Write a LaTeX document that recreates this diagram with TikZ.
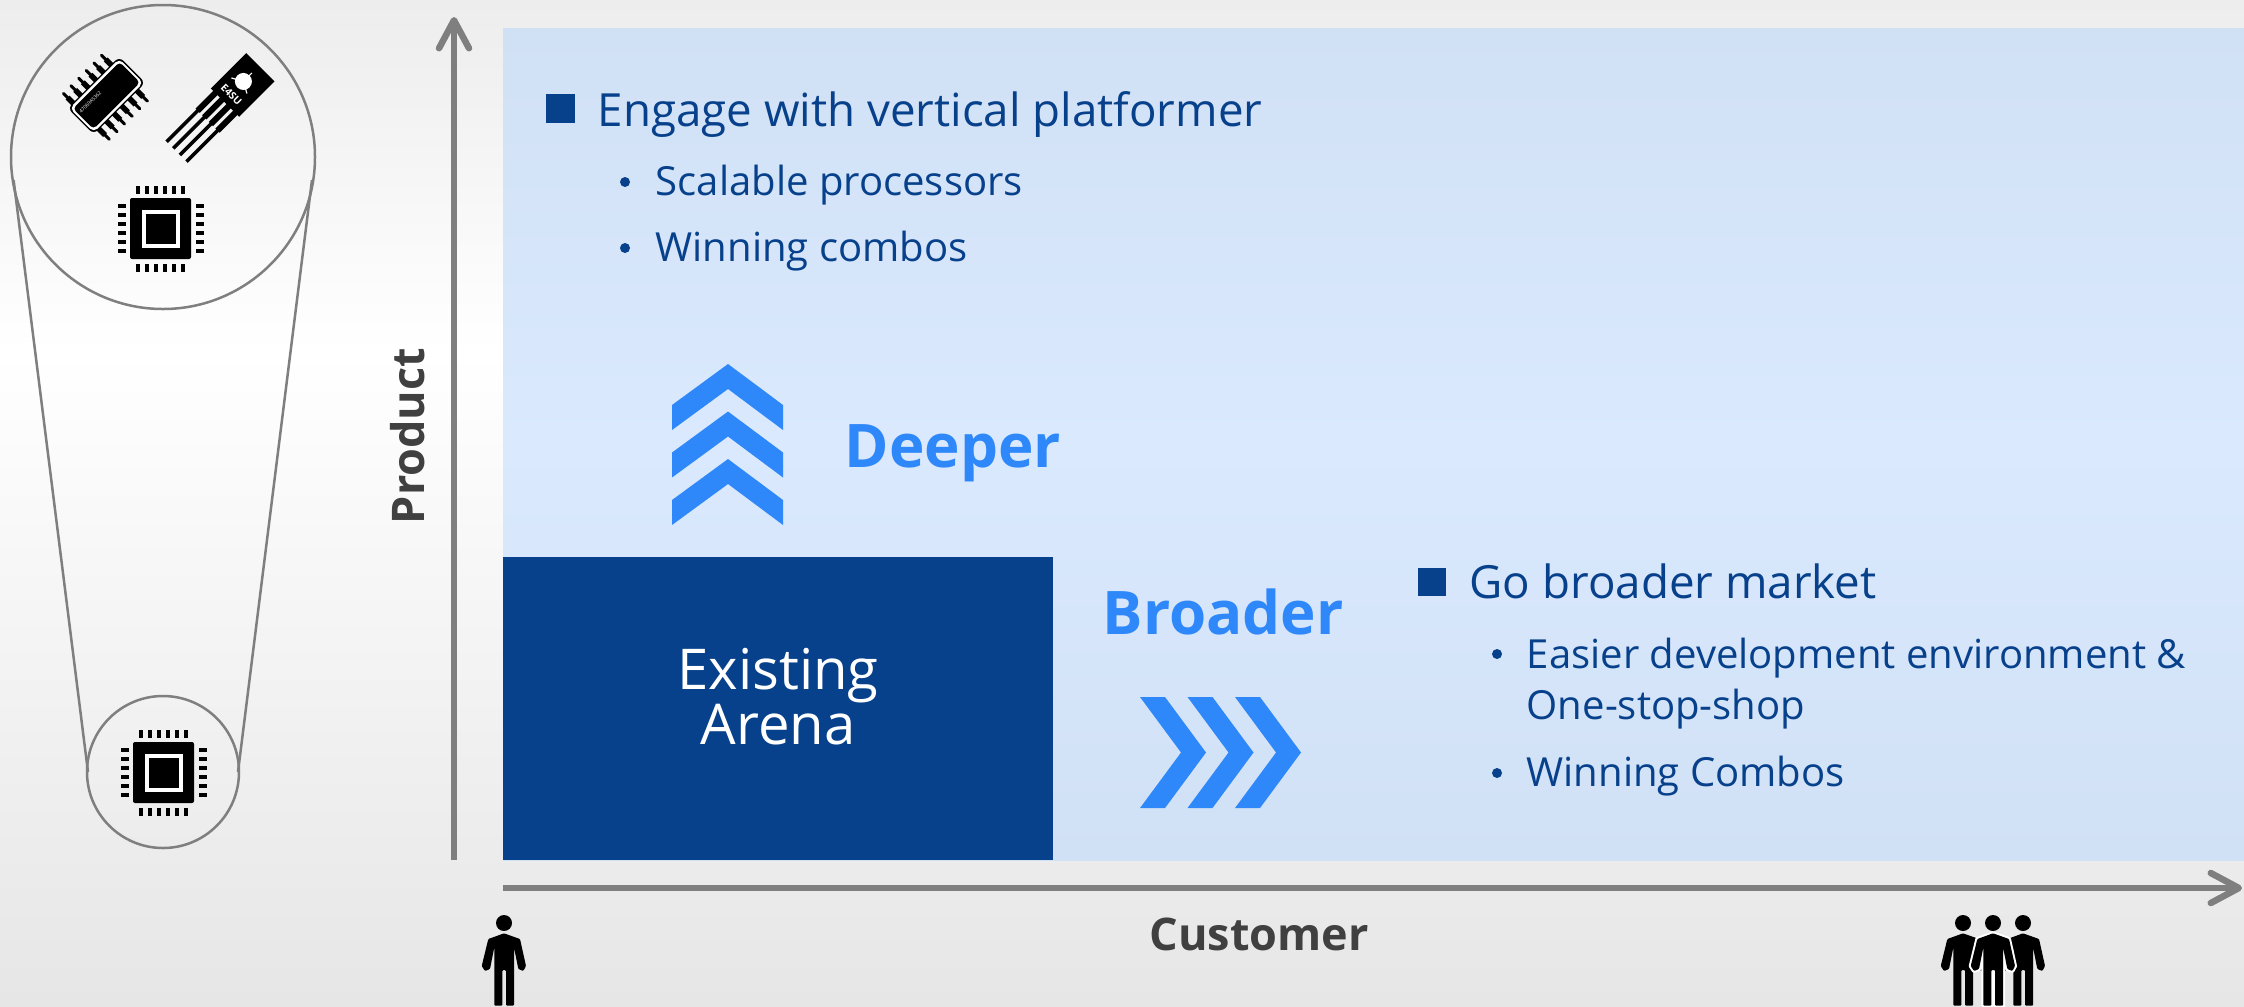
\documentclass[tikz,border=0pt]{standalone}
\usepackage{fontspec}
\setmainfont{Open Sans}
\usetikzlibrary{arrows.meta}
\definecolor{axisgray}{HTML}{7F7F7F}
\definecolor{darkblue}{HTML}{07408B}
\definecolor{textblue}{HTML}{07408B}
\definecolor{chevblue}{HTML}{2F88F9}
\definecolor{labelgray}{HTML}{404040}
\definecolor{panelrim}{HTML}{D1E1F5}
\definecolor{panelmid}{HTML}{DAE9FD}
\definecolor{pagetop}{HTML}{EDEDED}
\definecolor{pagebot}{HTML}{E6E6E6}
\pgfdeclareverticalshading{pageshade}{100bp}{color(0bp)=(pagebot);color(25bp)=(pagebot);color(57.5bp)=(white);color(75bp)=(pagetop);color(100bp)=(pagetop)}
\pgfdeclareverticalshading{panelshade}{100bp}{color(0bp)=(panelrim);color(25bp)=(panelrim);color(50bp)=(panelmid);color(75bp)=(panelrim);color(100bp)=(panelrim)}
\newcommand{\personshape}{(-0.157, -0.16) -- (-0.223, -0.43) -- (-0.19, -0.48) -- (-0.14, -0.46) -- (-0.097, -0.243) -- (-0.097, -0.827) -- (-0.017, -0.827) -- (-0.017, -0.47) -- (0.02, -0.47) -- (0.02, -0.827) -- (0.1, -0.827) -- (0.1, -0.243) -- (0.143, -0.46) -- (0.193, -0.48) -- (0.22, -0.43) -- (0.16, -0.16) -- (0, -0.103) -- cycle}
\tikzset{
	axis/.style={axisgray, line width=0.065cm, -{Straight Barb[round, length=0.28cm, width=0.3cm]}},
	lens/.style={axisgray, line width=0.025cm},
	chev/.style={fill=chevblue},
	head/.style={textblue, anchor=base west, inner sep=0pt, font=\fontsize{13}{13}\selectfont},
	sub/.style={textblue, anchor=base west, inner sep=0pt, font=\fontsize{11.4}{11.4}\selectfont},
	big/.style={chevblue, anchor=base west, inner sep=0pt, font=\fontsize{17.1}{17.1}\selectfont\bfseries},
	axislabel/.style={labelgray, font=\fontsize{12.8}{12.8}\selectfont\bfseries},
	bul/.style={fill=textblue},
	cpuchip/.pic={
		\fill[rounded corners=0.02cm] (-0.305, -0.305) rectangle (0.305, 0.305);
		\fill[white] (-0.19, -0.19) rectangle (0.19, 0.19);
		\fill (-0.15, -0.15) rectangle (0.15, 0.15);
		\foreach \p in {-0.225, -0.135, -0.045, 0.045, 0.135, 0.225} {
			\fill (\p-0.022, 0.35) rectangle (\p+0.022, 0.43);
			\fill (\p-0.022, -0.43) rectangle (\p+0.022, -0.35);
			\fill (-0.43, \p-0.022) rectangle (-0.35, \p+0.022);
			\fill (0.35, \p-0.022) rectangle (0.43, \p+0.022);
		}
	},
	person/.pic={
		\fill (0, 0) circle (0.08);
		\fill[rounded corners=0.01cm] \personshape;
	},
	persontop/.pic={
		\draw[white, line width=0.04cm, line join=round] \personshape;
		\fill (0, 0) circle (0.08);
		\fill[rounded corners=0.01cm] \personshape;
	}
}
\begin{document}
\begin{tikzpicture}
	\useasboundingbox (0, 0) rectangle (22.44, 10.06);
	\shade[shading=pageshade] (0, 0) rectangle (22.44, 10.06);
	\shade[shading=panelshade] (5.03, 1.46) rectangle (22.44, 9.78);

	% axes
	\coordinate (ybase) at (4.54, 1.46);
	\coordinate (ytip) at (4.54, 9.89);
	\coordinate (xbase) at (5.03, 1.18);
	\coordinate (xtip) at (22.42, 1.18);
	\draw[axis] (ybase) -- (ytip);
	\draw[axis] (xbase) -- (xtip);
	\node[axislabel, rotate=90] (product) at (4.08, 5.7) {Product};
	\node[axislabel] (customer) at (12.59, 0.72) {Customer};
	\pic at (5.04, 0.83) {person};
	\pic at (19.63, 0.83) {person};
	\pic at (20.23, 0.83) {person};
	\pic at (19.93, 0.83) {persontop};

	% existing arena
	\node[fill=darkblue, minimum width=5.5cm, minimum height=3.03cm, inner sep=0pt] (arena) at (7.78, 2.975) {};
	\node[text=white, inner sep=0pt, align=center, font=\fontsize{16}{15.7}\selectfont] (arenatext) at (7.78, 3.09) {Existing\\Arena};

	% chevrons
	\foreach \i in {0, 1, 2} {
		\fill[chev] (6.72, 6.01-\i*0.475) -- (7.28, 6.42-\i*0.475) -- (7.83, 6.01-\i*0.475) -- (7.83, 5.76-\i*0.475) -- (7.28, 6.17-\i*0.475) -- (6.72, 5.76-\i*0.475) -- cycle;
		\fill[chev] (11.40+\i*0.475, 3.09) -- (11.65+\i*0.475, 3.09) -- (12.06+\i*0.475, 2.535) -- (11.65+\i*0.475, 1.98) -- (11.40+\i*0.475, 1.98) -- (11.81+\i*0.475, 2.535) -- cycle;
	}
	\node[big] (deeper) at (8.44, 5.39) {Deeper};
	\node[big] (broader) at (11.02, 3.72) {Broader};

	% upper list
	\fill[bul] (5.46, 8.83) rectangle (5.75, 9.12);
	\node[head] (engage) at (5.97, 8.8) {Engage with vertical platformer};
	\fill[bul] (6.25, 8.24) circle (0.05);
	\node[sub] (scalable) at (6.55, 8.11) {Scalable processors};
	\fill[bul] (6.25, 7.58) circle (0.05);
	\node[sub] (winning) at (6.55, 7.45) {Winning combos};

	% lower list
	\fill[bul] (14.18, 4.1) rectangle (14.46, 4.38);
	\node[head] (broad) at (14.69, 4.08) {Go broader market};
	\fill[bul] (14.97, 3.52) circle (0.05);
	\node[sub] (easier) at (15.26, 3.38) {Easier development environment \&};
	\node[sub] (stop) at (15.26, 2.87) {One-stop-shop};
	\fill[bul] (14.97, 2.33) circle (0.05);
	\node[sub] (combos) at (15.26, 2.2) {Winning Combos};

	% lens
	\coordinate (l1) at (0.136, 8.26);
	\coordinate (l2) at (0.88, 2.34);
	\coordinate (r1) at (3.12, 8.26);
	\coordinate (r2) at (2.38, 2.34);
	\draw[lens] (l1) -- (l2);
	\draw[lens] (r1) -- (r2);
	\draw[lens] (1.63, 8.49) circle (1.52);
	\draw[lens] (1.63, 2.34) circle (0.76);
	\pic at (1.605, 7.775) {cpuchip};
	\pic at (1.635, 2.335) {cpuchip};

	% small parts
	\begin{scope}[shift={(1.065, 9.105)}, rotate=45]
		\foreach \p in {-0.29, -0.182, -0.074, 0.034, 0.142, 0.25} {
			\draw[line width=0.03cm, line cap=round] (\p, -0.33) -- (\p, 0.32);
			\draw[line width=0.055cm] (\p, -0.27) -- (\p, 0.26);
		}
		\fill[rounded corners=0.06cm] (-0.365, -0.185) rectangle (0.365, 0.185);
		\fill[white, rounded corners=0.05cm] (-0.35, -0.17) rectangle (0.35, 0.17);
		\fill[rounded corners=0.04cm] (-0.33, -0.145) rectangle (0.33, 0.145);
		\node[white, inner sep=0pt, rotate=45, font=\fontsize{1.4}{1.4}\selectfont] (icmark) at (-0.16, 0.07) {47069A5362};
	\end{scope}
	\begin{scope}[shift={(2.427, 9.21)}, rotate=45]
		\foreach \p in {0.137, 0.043, -0.051, -0.145} {
			\draw[line width=0.035cm] (-0.94, \p) -- (-0.2, \p);
			\draw[line width=0.06cm] (-0.5, \p) -- (-0.2, \p);
		}
		\fill (-0.25, -0.2) rectangle (0.25, 0.2);
		\fill[white] (0.03, 0.02) circle (0.085);
		\draw[white, line width=0.012cm] (0.03, 0.02) -- (0.15, 0.02) (0.03, 0.02) -- (-0.03, 0.13) (0.03, 0.02) -- (-0.03, -0.09);
		\node[white, inner sep=0pt, rotate=-45, font=\fontsize{2.9}{2.9}\selectfont\bfseries] (tabmark) at (-0.15, 0.01) {E4SU};
	\end{scope}
\end{tikzpicture}
\end{document}
